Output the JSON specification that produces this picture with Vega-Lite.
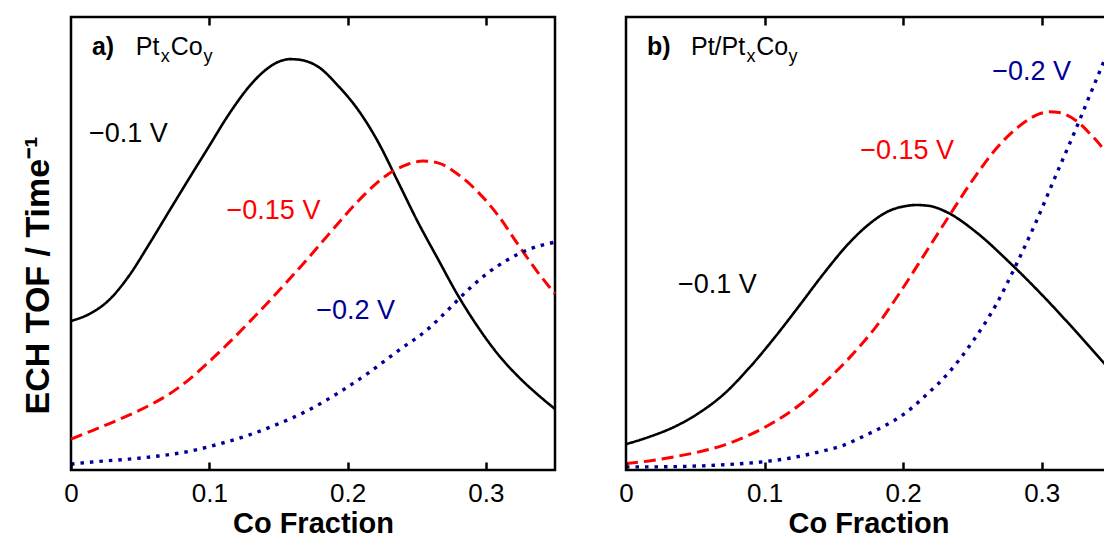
{
  "$schema": "https://vega.github.io/schema/vega-lite/v6.json",
  "autosize": {"type": "pad"},
  "padding": {"left": 19, "top": 14, "right": 0, "bottom": 4},
  "background": "white",
  "config": {
    "font": "Liberation Sans",
    "view": {"stroke": "black", "strokeWidth": 2.5},
    "axis": {"labelColor": "black", "titleColor": "black", "tickColor": "black", "grid": false}
  },
  "datasets": {
    "curves": [
      {"panel": "a", "series": "−0.1 V", "x": 0, "y": 0.329},
      {"panel": "a", "series": "−0.1 V", "x": 0.013, "y": 0.344},
      {"panel": "a", "series": "−0.1 V", "x": 0.0274, "y": 0.375},
      {"panel": "a", "series": "−0.1 V", "x": 0.0418, "y": 0.428},
      {"panel": "a", "series": "−0.1 V", "x": 0.0562, "y": 0.497},
      {"panel": "a", "series": "−0.1 V", "x": 0.0707, "y": 0.57},
      {"panel": "a", "series": "−0.1 V", "x": 0.0851, "y": 0.642},
      {"panel": "a", "series": "−0.1 V", "x": 0.0995, "y": 0.713},
      {"panel": "a", "series": "−0.1 V", "x": 0.1139, "y": 0.784},
      {"panel": "a", "series": "−0.1 V", "x": 0.1284, "y": 0.845},
      {"panel": "a", "series": "−0.1 V", "x": 0.1391, "y": 0.879},
      {"panel": "a", "series": "−0.1 V", "x": 0.15, "y": 0.901},
      {"panel": "a", "series": "−0.1 V", "x": 0.1586, "y": 0.907},
      {"panel": "a", "series": "−0.1 V", "x": 0.1644, "y": 0.906},
      {"panel": "a", "series": "−0.1 V", "x": 0.1788, "y": 0.89},
      {"panel": "a", "series": "−0.1 V", "x": 0.1932, "y": 0.848},
      {"panel": "a", "series": "−0.1 V", "x": 0.2076, "y": 0.795},
      {"panel": "a", "series": "−0.1 V", "x": 0.2221, "y": 0.724},
      {"panel": "a", "series": "−0.1 V", "x": 0.2365, "y": 0.636},
      {"panel": "a", "series": "−0.1 V", "x": 0.2509, "y": 0.547},
      {"panel": "a", "series": "−0.1 V", "x": 0.2653, "y": 0.466},
      {"panel": "a", "series": "−0.1 V", "x": 0.2797, "y": 0.386},
      {"panel": "a", "series": "−0.1 V", "x": 0.2942, "y": 0.316},
      {"panel": "a", "series": "−0.1 V", "x": 0.3086, "y": 0.256},
      {"panel": "a", "series": "−0.1 V", "x": 0.323, "y": 0.2075},
      {"panel": "a", "series": "−0.1 V", "x": 0.3374, "y": 0.1667},
      {"panel": "a", "series": "−0.1 V", "x": 0.35, "y": 0.1347},

      {"panel": "a", "series": "−0.15 V", "x": 0, "y": 0.068},
      {"panel": "a", "series": "−0.15 V", "x": 0.013, "y": 0.084},
      {"panel": "a", "series": "−0.15 V", "x": 0.0274, "y": 0.102},
      {"panel": "a", "series": "−0.15 V", "x": 0.0418, "y": 0.121},
      {"panel": "a", "series": "−0.15 V", "x": 0.0562, "y": 0.142},
      {"panel": "a", "series": "−0.15 V", "x": 0.0707, "y": 0.167},
      {"panel": "a", "series": "−0.15 V", "x": 0.0851, "y": 0.199},
      {"panel": "a", "series": "−0.15 V", "x": 0.0995, "y": 0.238},
      {"panel": "a", "series": "−0.15 V", "x": 0.1139, "y": 0.28},
      {"panel": "a", "series": "−0.15 V", "x": 0.1284, "y": 0.325},
      {"panel": "a", "series": "−0.15 V", "x": 0.1428, "y": 0.371},
      {"panel": "a", "series": "−0.15 V", "x": 0.1572, "y": 0.419},
      {"panel": "a", "series": "−0.15 V", "x": 0.1716, "y": 0.468},
      {"panel": "a", "series": "−0.15 V", "x": 0.186, "y": 0.519},
      {"panel": "a", "series": "−0.15 V", "x": 0.2005, "y": 0.57},
      {"panel": "a", "series": "−0.15 V", "x": 0.2149, "y": 0.616},
      {"panel": "a", "series": "−0.15 V", "x": 0.2293, "y": 0.653},
      {"panel": "a", "series": "−0.15 V", "x": 0.2437, "y": 0.675},
      {"panel": "a", "series": "−0.15 V", "x": 0.2545, "y": 0.682},
      {"panel": "a", "series": "−0.15 V", "x": 0.2653, "y": 0.678},
      {"panel": "a", "series": "−0.15 V", "x": 0.2797, "y": 0.653},
      {"panel": "a", "series": "−0.15 V", "x": 0.2942, "y": 0.614},
      {"panel": "a", "series": "−0.15 V", "x": 0.3086, "y": 0.563},
      {"panel": "a", "series": "−0.15 V", "x": 0.323, "y": 0.499},
      {"panel": "a", "series": "−0.15 V", "x": 0.3374, "y": 0.437},
      {"panel": "a", "series": "−0.15 V", "x": 0.35, "y": 0.389},

      {"panel": "a", "series": "−0.2 V", "x": 0, "y": 0.013},
      {"panel": "a", "series": "−0.2 V", "x": 0.0202, "y": 0.019},
      {"panel": "a", "series": "−0.2 V", "x": 0.0418, "y": 0.024},
      {"panel": "a", "series": "−0.2 V", "x": 0.0634, "y": 0.031},
      {"panel": "a", "series": "−0.2 V", "x": 0.0851, "y": 0.041},
      {"panel": "a", "series": "−0.2 V", "x": 0.1067, "y": 0.057},
      {"panel": "a", "series": "−0.2 V", "x": 0.1284, "y": 0.077},
      {"panel": "a", "series": "−0.2 V", "x": 0.15, "y": 0.102},
      {"panel": "a", "series": "−0.2 V", "x": 0.1716, "y": 0.132},
      {"panel": "a", "series": "−0.2 V", "x": 0.1932, "y": 0.17},
      {"panel": "a", "series": "−0.2 V", "x": 0.2149, "y": 0.214},
      {"panel": "a", "series": "−0.2 V", "x": 0.2365, "y": 0.263},
      {"panel": "a", "series": "−0.2 V", "x": 0.2581, "y": 0.311},
      {"panel": "a", "series": "−0.2 V", "x": 0.2725, "y": 0.353},
      {"panel": "a", "series": "−0.2 V", "x": 0.2869, "y": 0.397},
      {"panel": "a", "series": "−0.2 V", "x": 0.3014, "y": 0.435},
      {"panel": "a", "series": "−0.2 V", "x": 0.3158, "y": 0.464},
      {"panel": "a", "series": "−0.2 V", "x": 0.3302, "y": 0.486},
      {"panel": "a", "series": "−0.2 V", "x": 0.35, "y": 0.503},

      {"panel": "b", "series": "−0.1 V", "x": 0, "y": 0.057},
      {"panel": "b", "series": "−0.1 V", "x": 0.0166, "y": 0.073},
      {"panel": "b", "series": "−0.1 V", "x": 0.0347, "y": 0.095},
      {"panel": "b", "series": "−0.1 V", "x": 0.0527, "y": 0.126},
      {"panel": "b", "series": "−0.1 V", "x": 0.0708, "y": 0.168},
      {"panel": "b", "series": "−0.1 V", "x": 0.0888, "y": 0.225},
      {"panel": "b", "series": "−0.1 V", "x": 0.1069, "y": 0.291},
      {"panel": "b", "series": "−0.1 V", "x": 0.1249, "y": 0.362},
      {"panel": "b", "series": "−0.1 V", "x": 0.143, "y": 0.435},
      {"panel": "b", "series": "−0.1 V", "x": 0.161, "y": 0.501},
      {"panel": "b", "series": "−0.1 V", "x": 0.1755, "y": 0.543},
      {"panel": "b", "series": "−0.1 V", "x": 0.1899, "y": 0.572},
      {"panel": "b", "series": "−0.1 V", "x": 0.2007, "y": 0.582},
      {"panel": "b", "series": "−0.1 V", "x": 0.2094, "y": 0.585},
      {"panel": "b", "series": "−0.1 V", "x": 0.2188, "y": 0.583},
      {"panel": "b", "series": "−0.1 V", "x": 0.231, "y": 0.57},
      {"panel": "b", "series": "−0.1 V", "x": 0.2527, "y": 0.525},
      {"panel": "b", "series": "−0.1 V", "x": 0.2765, "y": 0.459},
      {"panel": "b", "series": "−0.1 V", "x": 0.3004, "y": 0.386},
      {"panel": "b", "series": "−0.1 V", "x": 0.3249, "y": 0.305},
      {"panel": "b", "series": "−0.1 V", "x": 0.3444, "y": 0.238},
      {"panel": "b", "series": "−0.1 V", "x": 0.35, "y": 0.219},

      {"panel": "b", "series": "−0.15 V", "x": 0, "y": 0.014},
      {"panel": "b", "series": "−0.15 V", "x": 0.0166, "y": 0.02},
      {"panel": "b", "series": "−0.15 V", "x": 0.0347, "y": 0.029},
      {"panel": "b", "series": "−0.15 V", "x": 0.0527, "y": 0.04},
      {"panel": "b", "series": "−0.15 V", "x": 0.0708, "y": 0.055},
      {"panel": "b", "series": "−0.15 V", "x": 0.0888, "y": 0.077},
      {"panel": "b", "series": "−0.15 V", "x": 0.1069, "y": 0.106},
      {"panel": "b", "series": "−0.15 V", "x": 0.1249, "y": 0.143},
      {"panel": "b", "series": "−0.15 V", "x": 0.143, "y": 0.192},
      {"panel": "b", "series": "−0.15 V", "x": 0.161, "y": 0.247},
      {"panel": "b", "series": "−0.15 V", "x": 0.1791, "y": 0.311},
      {"panel": "b", "series": "−0.15 V", "x": 0.1971, "y": 0.389},
      {"panel": "b", "series": "−0.15 V", "x": 0.2152, "y": 0.475},
      {"panel": "b", "series": "−0.15 V", "x": 0.2332, "y": 0.561},
      {"panel": "b", "series": "−0.15 V", "x": 0.2513, "y": 0.645},
      {"panel": "b", "series": "−0.15 V", "x": 0.2693, "y": 0.717},
      {"panel": "b", "series": "−0.15 V", "x": 0.2838, "y": 0.759},
      {"panel": "b", "series": "−0.15 V", "x": 0.2982, "y": 0.786},
      {"panel": "b", "series": "−0.15 V", "x": 0.3054, "y": 0.791},
      {"panel": "b", "series": "−0.15 V", "x": 0.3126, "y": 0.789},
      {"panel": "b", "series": "−0.15 V", "x": 0.3249, "y": 0.771},
      {"panel": "b", "series": "−0.15 V", "x": 0.3343, "y": 0.744},
      {"panel": "b", "series": "−0.15 V", "x": 0.3444, "y": 0.709},
      {"panel": "b", "series": "−0.15 V", "x": 0.35, "y": 0.684},

      {"panel": "b", "series": "−0.2 V", "x": 0, "y": 0.007},
      {"panel": "b", "series": "−0.2 V", "x": 0.0238, "y": 0.007},
      {"panel": "b", "series": "−0.2 V", "x": 0.0431, "y": 0.008},
      {"panel": "b", "series": "−0.2 V", "x": 0.0671, "y": 0.011},
      {"panel": "b", "series": "−0.2 V", "x": 0.0984, "y": 0.018},
      {"panel": "b", "series": "−0.2 V", "x": 0.1177, "y": 0.026},
      {"panel": "b", "series": "−0.2 V", "x": 0.1394, "y": 0.04},
      {"panel": "b", "series": "−0.2 V", "x": 0.1574, "y": 0.055},
      {"panel": "b", "series": "−0.2 V", "x": 0.1731, "y": 0.077},
      {"panel": "b", "series": "−0.2 V", "x": 0.1863, "y": 0.097},
      {"panel": "b", "series": "−0.2 V", "x": 0.1995, "y": 0.121},
      {"panel": "b", "series": "−0.2 V", "x": 0.2164, "y": 0.165},
      {"panel": "b", "series": "−0.2 V", "x": 0.2332, "y": 0.216},
      {"panel": "b", "series": "−0.2 V", "x": 0.25, "y": 0.283},
      {"panel": "b", "series": "−0.2 V", "x": 0.2669, "y": 0.364},
      {"panel": "b", "series": "−0.2 V", "x": 0.2814, "y": 0.452},
      {"panel": "b", "series": "−0.2 V", "x": 0.2958, "y": 0.547},
      {"panel": "b", "series": "−0.2 V", "x": 0.3103, "y": 0.651},
      {"panel": "b", "series": "−0.2 V", "x": 0.3247, "y": 0.753},
      {"panel": "b", "series": "−0.2 V", "x": 0.3367, "y": 0.842},
      {"panel": "b", "series": "−0.2 V", "x": 0.3427, "y": 0.886},
      {"panel": "b", "series": "−0.2 V", "x": 0.35, "y": 0.94}
    ],
    "curveLabels": [
      {"panel": "a", "series": "−0.1 V", "x": 0.013, "y": 0.742},
      {"panel": "a", "series": "−0.15 V", "x": 0.1125, "y": 0.572},
      {"panel": "a", "series": "−0.2 V", "x": 0.1774, "y": 0.352},
      {"panel": "b", "series": "−0.1 V", "x": 0.0375, "y": 0.408},
      {"panel": "b", "series": "−0.15 V", "x": 0.169, "y": 0.704},
      {"panel": "b", "series": "−0.2 V", "x": 0.2643, "y": 0.879}
    ],
    "panelLetters": [
      {"panel": "a", "text": "a)", "x": 0.0151, "y": 0.916},
      {"panel": "b", "text": "b)", "x": 0.0152, "y": 0.916}
    ],
    "titleMain": [
      {"panel": "a", "text": "Pt", "x": 0.0469, "y": 0.916},
      {"panel": "a", "text": "Co", "x": 0.0721, "y": 0.916},
      {"panel": "b", "text": "Pt/Pt", "x": 0.0469, "y": 0.916},
      {"panel": "b", "text": "Co", "x": 0.094, "y": 0.916}
    ],
    "titleSub": [
      {"panel": "a", "text": "x", "x": 0.0649, "y": 0.9},
      {"panel": "a", "text": "y", "x": 0.0959, "y": 0.9},
      {"panel": "b", "text": "x", "x": 0.0869, "y": 0.9},
      {"panel": "b", "text": "y", "x": 0.1173, "y": 0.9}
    ]
  },
  "spacing": 53,
  "hconcat": [
    {
      "width": 484,
      "height": 453,
      "encoding": {
        "y": {"field": "y", "type": "quantitative", "scale": {"domain": [0, 1], "nice": false},
              "axis": {"title": "ECH TOF / Time⁻¹", "ticks": false, "labels": false, "domain": false, "titleFontSize": 34, "titleFontWeight": "bold", "titlePadding": 16, "titleY": 258}}
      },
      "layer": [
        {
          "data": {"name": "curves"},
          "transform": [{"filter": "datum.panel === 'a'"}],
          "mark": {"type": "line", "interpolate": "monotone", "strokeCap": "butt"},
          "encoding": {
            "x": {"field": "x", "type": "quantitative", "scale": {"domain": [0, 0.35], "nice": false, "zero": false},
                  "axis": {"orient": "bottom", "offset": -8, "zindex": 1, "values": [0, 0.1, 0.2, 0.3], "format": "~g", "domain": false, "ticks": true, "tickSize": 8, "tickWidth": 2.5, "tickColor": "black", "tickOpacity": 1,
                           "labelFontSize": 26, "labelPadding": 10, "labelFlush": false, "title": "Co Fraction", "titleFontSize": 29, "titleFontWeight": "bold", "titlePadding": 3}},
            "color": {"field": "series", "type": "nominal", "scale": {"domain": ["−0.1 V", "−0.15 V", "−0.2 V"], "range": ["black", "#ff0000", "#000099"]}, "legend": null},
            "strokeDash": {"field": "series", "type": "nominal", "scale": {"domain": ["−0.1 V", "−0.15 V", "−0.2 V"], "range": [[1, 0], [12, 6], [3.5, 6]]}, "legend": null},
            "strokeWidth": {"field": "series", "type": "nominal", "scale": {"domain": ["−0.1 V", "−0.15 V", "−0.2 V"], "range": [2.6, 3.4, 3.5]}, "legend": null}
          }
        },
        {
          "data": {"name": "curveLabels"},
          "transform": [{"filter": "datum.panel === 'a'"}],
          "mark": {"type": "text", "align": "left", "baseline": "middle", "fontSize": 27},
          "encoding": {
            "x": {"field": "x", "type": "quantitative", "axis": {"orient": "top", "offset": -8, "zindex": 1, "values": [0.1, 0.2, 0.3], "labels": false, "title": null, "domain": false, "ticks": true, "tickSize": 8, "tickWidth": 2.5, "tickColor": "black", "tickOpacity": 1}},
            "text": {"field": "series"},
            "color": {"field": "series", "type": "nominal", "scale": {"domain": ["−0.1 V", "−0.15 V", "−0.2 V"], "range": ["black", "#ff0000", "#000099"]}, "legend": null}
          }
        },
        {
          "data": {"name": "panelLetters"},
          "transform": [{"filter": "datum.panel === 'a'"}],
          "mark": {"type": "text", "align": "left", "baseline": "alphabetic", "fontSize": 25, "fontWeight": "bold", "color": "black"},
          "encoding": {
            "x": {"field": "x", "type": "quantitative", "axis": null},
            "text": {"field": "text"}
          }
        },
        {
          "data": {"name": "titleMain"},
          "transform": [{"filter": "datum.panel === 'a'"}],
          "mark": {"type": "text", "align": "left", "baseline": "alphabetic", "fontSize": 25, "color": "black"},
          "encoding": {
            "x": {"field": "x", "type": "quantitative", "axis": null},
            "text": {"field": "text"}
          }
        },
        {
          "data": {"name": "titleSub"},
          "transform": [{"filter": "datum.panel === 'a'"}],
          "mark": {"type": "text", "align": "left", "baseline": "alphabetic", "fontSize": 18, "color": "black"},
          "encoding": {
            "x": {"field": "x", "type": "quantitative", "axis": null},
            "text": {"field": "text"}
          }
        }
      ]
    },
    {
      "width": 485,
      "height": 453,
      "encoding": {
        "y": {"field": "y", "type": "quantitative", "scale": {"domain": [0, 1], "nice": false}, "axis": null}
      },
      "layer": [
        {
          "data": {"name": "curves"},
          "transform": [{"filter": "datum.panel === 'b'"}],
          "mark": {"type": "line", "interpolate": "monotone", "strokeCap": "butt"},
          "encoding": {
            "x": {"field": "x", "type": "quantitative", "scale": {"domain": [0, 0.35], "nice": false, "zero": false},
                  "axis": {"orient": "bottom", "offset": -8, "zindex": 1, "values": [0, 0.1, 0.2, 0.3], "format": "~g", "domain": false, "ticks": true, "tickSize": 8, "tickWidth": 2.5, "tickColor": "black", "tickOpacity": 1,
                           "labelFontSize": 26, "labelPadding": 10, "labelFlush": false, "title": "Co Fraction", "titleFontSize": 29, "titleFontWeight": "bold", "titlePadding": 3}},
            "color": {"field": "series", "type": "nominal", "scale": {"domain": ["−0.1 V", "−0.15 V", "−0.2 V"], "range": ["black", "#ff0000", "#000099"]}, "legend": null},
            "strokeDash": {"field": "series", "type": "nominal", "scale": {"domain": ["−0.1 V", "−0.15 V", "−0.2 V"], "range": [[1, 0], [12, 6], [3.5, 6]]}, "legend": null},
            "strokeWidth": {"field": "series", "type": "nominal", "scale": {"domain": ["−0.1 V", "−0.15 V", "−0.2 V"], "range": [2.6, 3.4, 3.5]}, "legend": null}
          }
        },
        {
          "data": {"name": "curveLabels"},
          "transform": [{"filter": "datum.panel === 'b'"}],
          "mark": {"type": "text", "align": "left", "baseline": "middle", "fontSize": 27},
          "encoding": {
            "x": {"field": "x", "type": "quantitative", "axis": {"orient": "top", "offset": -8, "zindex": 1, "values": [0.1, 0.2, 0.3], "labels": false, "title": null, "domain": false, "ticks": true, "tickSize": 8, "tickWidth": 2.5, "tickColor": "black", "tickOpacity": 1}},
            "text": {"field": "series"},
            "color": {"field": "series", "type": "nominal", "scale": {"domain": ["−0.1 V", "−0.15 V", "−0.2 V"], "range": ["black", "#ff0000", "#000099"]}, "legend": null}
          }
        },
        {
          "data": {"name": "panelLetters"},
          "transform": [{"filter": "datum.panel === 'b'"}],
          "mark": {"type": "text", "align": "left", "baseline": "alphabetic", "fontSize": 25, "fontWeight": "bold", "color": "black"},
          "encoding": {
            "x": {"field": "x", "type": "quantitative", "axis": null},
            "text": {"field": "text"}
          }
        },
        {
          "data": {"name": "titleMain"},
          "transform": [{"filter": "datum.panel === 'b'"}],
          "mark": {"type": "text", "align": "left", "baseline": "alphabetic", "fontSize": 25, "color": "black"},
          "encoding": {
            "x": {"field": "x", "type": "quantitative", "axis": null},
            "text": {"field": "text"}
          }
        },
        {
          "data": {"name": "titleSub"},
          "transform": [{"filter": "datum.panel === 'b'"}],
          "mark": {"type": "text", "align": "left", "baseline": "alphabetic", "fontSize": 18, "color": "black"},
          "encoding": {
            "x": {"field": "x", "type": "quantitative", "axis": null},
            "text": {"field": "text"}
          }
        }
      ]
    }
  ]
}
